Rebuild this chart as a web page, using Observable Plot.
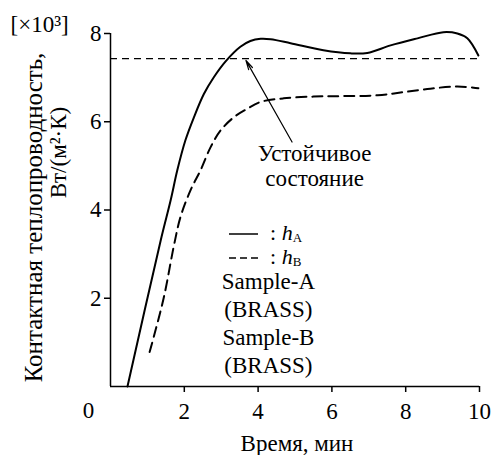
<!DOCTYPE html>
<html>
<head>
<meta charset="utf-8">
<script src="https://cdn.jsdelivr.net/npm/d3@7"></script>
<script src="https://cdn.jsdelivr.net/npm/@observablehq/plot@0.6"></script>
<style>
  html, body { margin: 0; padding: 0; background: #fff; }
  #chart { width: 493px; height: 455px; }
  #chart svg, #chart svg text, #chart svg tspan { font-family: "Liberation Serif", "DejaVu Serif", serif !important; }
</style>
</head>
<body>
<div id="chart"></div>
<script>
// Contact heat conductance h_A (solid) vs time, minutes / ×10³ W/(m²·K)
const timeA = [0.46, 1.36, 1.63, 1.81, 2.03, 2.26, 2.53, 2.8, 3.12, 3.52, 3.79, 4.07, 4.34, 4.88, 5.77, 6.5, 6.96, 7.59, 8.32, 9.02, 9.4, 9.67, 9.97];
const valueA = [0, 3.31, 4.22, 4.9, 5.58, 6.1, 6.63, 7.01, 7.37, 7.7, 7.83, 7.88, 7.87, 7.78, 7.62, 7.55, 7.56, 7.73, 7.89, 8.03, 8.0, 7.89, 7.5];

// Contact heat conductance h_B (dashed)
const timeB = [1.06, 1.44, 1.72, 1.9, 2.17, 2.44, 2.71, 2.98, 3.34, 3.7, 4.07, 4.69, 5.5, 6.23, 7.24, 7.94, 8.67, 9.4, 9.97];
const valueB = [0.78, 2.0, 3.2, 3.85, 4.45, 4.9, 5.42, 5.8, 6.1, 6.29, 6.45, 6.53, 6.57, 6.58, 6.6, 6.67, 6.75, 6.8, 6.76];

// Steady-state level and its callout
const steadyLevel = 7.43;
const calloutText = "Устойчивое\nсостояние";
const calloutAt = [5.53, 5.01];
const arrowFrom = [4.92, 5.54];
const arrowTo = [3.67, 7.39];

const xTicks = [2, 4, 6, 8, 10];
const yTicks = [2, 4, 6, 8];
const originLabel = "0";
const xTitle = "Время, мин";
const yTitleLines = ["Контактная теплопроводность,", "Вт/(м²·К)"];
const unitLabel = "[×10³]";
const legendKeys = [{sub: "A", dash: null}, {sub: "B", dash: "7,4"}];
const sampleNotes = ["Sample-A", "(BRASS)", "Sample-B", "(BRASS)"];
const notesAt = [4.28, 1.46];

const seriesA = timeA.map((t, i) => ({t, h: valueA[i]}));
const seriesB = timeB.map((t, i) => ({t, h: valueB[i]}));

const FONT = "'Liberation Serif', 'DejaVu Serif', serif";
const FS = 23;

const plot = Plot.plot({
  width: 493,
  height: 455,
  marginLeft: 110,
  marginRight: 14,
  marginTop: 33,
  marginBottom: 69,
  style: {fontSize: FS + "px", color: "#000", background: "#fff", overflow: "visible"},
  x: {domain: [0, 10]},
  y: {domain: [0, 8]},
  marks: [
    // steady-state reference line
    Plot.ruleY([steadyLevel], {stroke: "#000", strokeWidth: 1.4, strokeDasharray: "7,5"}),
    // curves
    Plot.line(seriesA, {x: "t", y: "h", curve: "catmull-rom", stroke: "#000", strokeWidth: 2}),
    Plot.line(seriesB, {x: "t", y: "h", curve: "catmull-rom", stroke: "#000", strokeWidth: 2, strokeDasharray: "10,6"}),
    // callout arrow and its text
    Plot.arrow([{x1: arrowFrom[0], y1: arrowFrom[1], x2: arrowTo[0], y2: arrowTo[1]}],
      {x1: "x1", y1: "y1", x2: "x2", y2: "y2", stroke: "#000", strokeWidth: 1.2, headLength: 12, headAngle: 26}),
    Plot.text([calloutText], {x: calloutAt[0], y: calloutAt[1], text: d => d, lineAnchor: "middle", lineHeight: 1.09, fontSize: FS, fill: "#000"}),
    // sample notes under the key
    Plot.text([sampleNotes.join("\n")], {x: notesAt[0], y: notesAt[1], text: d => d, lineAnchor: "middle", lineHeight: 1.217, fontSize: FS, fill: "#000"}),
    // axes
    Plot.axisX({ticks: xTicks, tickSize: 6, tickPadding: 10, label: null, fontSize: FS, strokeWidth: 1.5}),
    Plot.axisY({ticks: yTicks, tickSize: 6, tickPadding: 3, label: null, fontSize: FS, strokeWidth: 1.5}),
    Plot.ruleX([0], {stroke: "#000", strokeWidth: 1.5}),
    Plot.ruleY([0], {stroke: "#000", strokeWidth: 1.5}),
    Plot.text([originLabel], {x: 0, y: 0, text: d => d, dx: -22, dy: 24, fontSize: FS, fill: "#000"}),
    // axis titles
    Plot.text([xTitle], {frameAnchor: "bottom", text: d => d, textAnchor: "middle", dx: 2, dy: 57, lineAnchor: "middle", fontSize: FS, fill: "#000"}),
    Plot.text([yTitleLines[0]], {frameAnchor: "left", text: d => d, rotate: -90, textAnchor: "middle", dx: -77, dy: 7.5, lineAnchor: "middle", fontSize: 25, fill: "#000"}),
    Plot.text([yTitleLines[1]], {frameAnchor: "left", text: d => d, rotate: -90, textAnchor: "middle", dx: -52, dy: -57.5, lineAnchor: "middle", fontSize: FS, fill: "#000"}),
    Plot.text([unitLabel], {frameAnchor: "top-left", text: d => d, textAnchor: "start", lineAnchor: "middle", dx: -100, dy: -9, fontSize: FS, fill: "#000"})
  ]
});

plot.setAttribute("font-family", FONT);
document.getElementById("chart").appendChild(plot);

// Line-style key: swatch, then ": h" with subscript series letter
const svg = d3.select(plot);
const key = svg.append("g")
  .attr("font-size", 22)
  .attr("fill", "#000").attr("text-anchor", "start");
const keyLeft = 229, keyWidth = 29, keyTop = 234, keyStep = 24;
legendKeys.forEach((k, i) => {
  const y = keyTop + i * keyStep;
  key.append("line")
    .attr("x1", keyLeft).attr("x2", keyLeft + keyWidth)
    .attr("y1", y).attr("y2", y)
    .attr("stroke", "#000").attr("stroke-width", 1.5)
    .attr("stroke-dasharray", k.dash);
  const t = key.append("text").attr("x", keyLeft + keyWidth + 12).attr("y", y + 6);
  t.append("tspan").text(": ");
  t.append("tspan").attr("font-style", "italic").text("h");
  t.append("tspan").attr("font-size", 13).attr("dy", 2).text(k.sub);
});
</script>
</body>
</html>
